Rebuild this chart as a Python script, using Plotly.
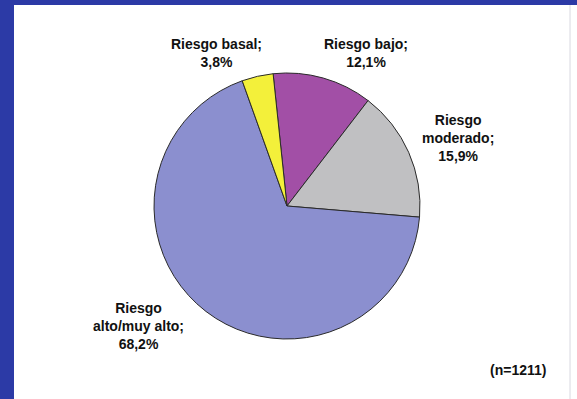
import plotly.graph_objects as go

# Data
categories = ["Riesgo bajo", "Riesgo moderado", "Riesgo alto/muy alto", "Riesgo basal"]
values = [12.1, 15.9, 68.2, 3.8]
label_texts = ["Riesgo bajo;<br>12,1%", "Riesgo<br>moderado;<br>15,9%",
               "Riesgo<br>alto/muy alto;<br>68,2%", "Riesgo basal;<br>3,8%"]
note_text = "(n=1211)"

# Styles / positions
colors = ["#A24FA6", "#C0C0C2", "#8B8FCF", "#F3F03A"]
W, H = 577, 399
label_px = [(366, 53), (458, 138), (138, 326), (216, 53)]
note_px = (518, 370)

cx, cy, r = 287, 206, 133

def px(x, y):
    return x / W, 1 - y / H

fig = go.Figure()
fig.add_trace(go.Pie(
    labels=categories, values=values, sort=False, direction="clockwise",
    rotation=-6, textinfo="none", hoverinfo="label+percent",
    marker=dict(colors=colors, line=dict(color="#2a2a2a", width=1)),
    domain=dict(x=[(cx - r) / W, (cx + r) / W], y=[1 - (cy + r) / H, 1 - (cy - r) / H]),
    showlegend=False,
))

font = dict(family="Liberation Sans, Arial, sans-serif", size=14, color="#111111")
for t, (x, y) in zip(label_texts, label_px):
    ax, ay = px(x, y)
    fig.add_annotation(text="<b>" + t + "</b>", x=ax, y=ay, xref="paper", yref="paper",
                       showarrow=False, font=font, xanchor="center", yanchor="middle", align="center")
ax, ay = px(*note_px)
fig.add_annotation(text="<b>" + note_text + "</b>", x=ax, y=ay, xref="paper", yref="paper",
                   showarrow=False, font=font, xanchor="center", yanchor="middle")

fig.add_shape(type="rect", xref="paper", yref="paper", x0=14 / W, x1=1.02, y0=-0.02, y1=1 - 5 / H,
              fillcolor="white", line=dict(width=0), layer="below")
fig.add_shape(type="line", xref="paper", yref="paper", x0=570 / W, x1=570 / W, y0=0, y1=1 - 5 / H,
              line=dict(color="#d8d8e0", width=1), layer="below")

fig.update_layout(width=W, height=H, margin=dict(l=0, r=0, t=0, b=0),
                  paper_bgcolor="#2C3AA6", plot_bgcolor="white")
fig.write_html("out.html", config={"displayModeBar": False},
               post_script="document.body.style.margin='0';document.body.style.padding='0';")
